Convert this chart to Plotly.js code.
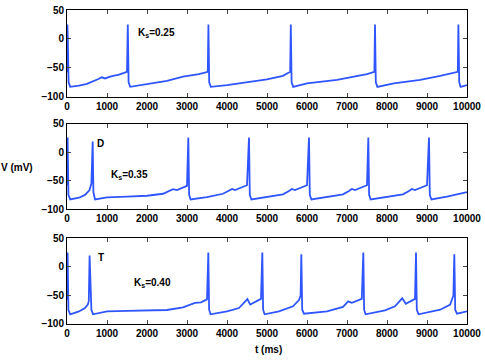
<!DOCTYPE html>
<html>
<head>
<meta charset="utf-8">
<script src="https://cdn.plot.ly/plotly-3.0.1.min.js"></script>
<style>
  html, body { margin: 0; padding: 0; background: #fff; }
  #chart { width: 485px; height: 360px; }
</style>
</head>
<body>
<div id="chart"></div>
<script>
// Ks = 0.25
var tA = [0, 10, 20, 40, 80, 300, 500, 800, 870, 950, 1100, 1300, 1500, 1520, 1540, 1580,
  2000, 2500, 2900, 3300, 3520, 3535, 3555, 3595, 4000, 4580, 5000, 5400, 5580, 5595, 5615, 5655,
  6000, 6750, 7080, 7500, 7685, 7700, 7720, 7760, 8170, 8830, 9330, 9770, 9785, 9805, 9840, 10000];
var vA = [-58, 25, 0, -75, -83, -81, -78, -69, -66.5, -68.5, -65, -62, -57, 25, -75, -83,
  -78.5, -72.5, -65.5, -61, -57, 25, -75, -83, -80, -74, -70, -64, -57, 25, -75, -83,
  -77, -71, -66.5, -61, -57, 25, -75, -83, -77, -71, -64, -57, 25, -75, -83, -80];

// Ks = 0.35
var tB = [0, 15, 35, 80, 300, 450, 560, 610, 642, 660, 700, 1000, 1500, 2000, 2400, 2600, 2650, 2750,
  3000, 3033, 3053, 3090, 3500, 3900, 4080, 4130, 4200, 4500, 4550, 4570, 4610, 5000, 5400, 5550,
  5620, 5700, 6000, 6050, 6070, 6110, 6500, 6900, 7050, 7120, 7200, 7500, 7533, 7553, 7590, 8000,
  8400, 8550, 8620, 8700, 9000, 9050, 9070, 9110, 9500, 10000];
var vB = [-58, 26, -75, -83, -80, -75, -67, -55, 19, -70, -83, -79.5, -78, -76.5, -73, -67, -65, -66.5,
  -59, 26, -75, -83, -79, -73, -67, -64.5, -66.5, -58, 26, -75, -83, -79, -74, -68,
  -64.5, -66.5, -58, 26, -75, -83, -79, -74, -68, -64.5, -66.5, -58, 26, -75, -83, -79,
  -74, -68, -64.5, -66.5, -58, 26, -75, -83, -78, -70];

// Ks = 0.40
var tC = [0, 15, 35, 80, 300, 450, 520, 545, 565, 610, 650, 1000, 1500, 2000, 2500, 2900, 3100, 3200,
  3350, 3500, 3533, 3553, 3590, 4000, 4300, 4450, 4510, 4580, 4700, 4850, 4883, 4903, 4940, 5300,
  5650, 5800, 5840, 5858, 5880, 5925, 6500, 6900, 7030, 7120, 7370, 7408, 7428, 7465, 7950, 8200,
  8380, 8470, 8700, 8725, 8745, 8790, 9330, 9580, 9660, 9683, 9705, 9750, 10000];
var vC = [-58, 25, -75, -83, -78, -72, -66, -60, 20, -75, -83, -78, -77, -76.5, -75.5, -71, -65, -63,
  -62, -57, 25, -75, -83, -78, -72, -62, -56.5, -66, -62, -56, 25, -75, -83, -78,
  -69, -58, -50, 22, -75, -82, -78, -70, -60.5, -63, -56, 25, -75, -83, -76, -69,
  -55, -64.5, -56, 25, -75, -83, -75, -66, -50, 22, -75, -82, -78];

var xTicks = [0, 1000, 2000, 3000, 4000, 5000, 6000, 7000, 8000, 9000, 10000];
var xText = ['0', '1000', '2000', '3000', '4000', '5000', '6000', '7000', '8000', '9000', '10000'];
var yTicks = [-100, -50, 0, 50];
var yText = ['\u2212100', '\u221250', '0', '50'];
var labels = ['K<sub>s</sub>=0.25', 'K<sub>s</sub>=0.35', 'K<sub>s</sub>=0.40'];

const BLUE = '#2f55ff';
const FONT = 'Liberation Sans, Arial, sans-serif';

function trace(t, v, n) {
  return {
    x: t, y: v, mode: 'lines',
    xaxis: n == 1 ? 'x' : 'x' + n,
    yaxis: n == 1 ? 'y' : 'y' + n,
    line: { color: BLUE, width: 1.8 },
    hoverinfo: 'skip'
  };
}

function xax(anchor) {
  return {
    range: [0, 10000], tickvals: xTicks, ticktext: xText, ticks: 'inside', ticklen: 4,
    showline: true, linecolor: '#000', linewidth: 1, mirror: 'ticks',
    showgrid: false, zeroline: false, anchor: anchor,
    tickfont: { size: 10, family: FONT, color: '#000', weight: 'bold' }
  };
}

function yax(domain, anchor) {
  return {
    range: [-100, 50], tickvals: yTicks, ticktext: yText,
    ticks: 'inside', ticklen: 4, domain: domain, anchor: anchor,
    showline: true, linecolor: '#000', linewidth: 1, mirror: 'ticks',
    showgrid: false, zeroline: false,
    tickfont: { size: 10, family: FONT, color: '#000', weight: 'bold' }
  };
}

var txt = { size: 10, family: FONT, color: '#000', weight: 'bold' };

function note(text, x, y, n) {
  return { text: text, x: x, y: y, xref: n == 1 ? 'x' : 'x' + n, yref: n == 1 ? 'y' : 'y' + n,
    xanchor: 'left', yanchor: 'middle', showarrow: false, font: txt };
}

var layout = {
  width: 485, height: 360,
  margin: { l: 67, r: 18, t: 10, b: 36 },
  paper_bgcolor: '#fff', plot_bgcolor: '#fff',
  showlegend: false,
  xaxis: xax('y'), yaxis: yax([0.724, 1], 'x'),
  xaxis2: xax('y2'), yaxis2: yax([0.366, 0.637], 'x2'),
  xaxis3: xax('y3'), yaxis3: yax([0, 0.273], 'x3'),
  annotations: [
    note(labels[0], 1720, 10, 1),
    note('D', 700, 15, 2),
    note(labels[1], 1050, -40, 2),
    note('T', 720, 16, 3),
    note(labels[2], 1630, -28, 3),
    // axis labels, placed in paper coords from pixel positions
    { text: 'V (mV)', x: (17 - 67) / 400, y: (324 - 167) / 314, xref: 'paper', yref: 'paper',
      xanchor: 'center', yanchor: 'middle', showarrow: false, font: txt },
    { text: 't (ms)', x: (268 - 67) / 400, y: (324 - 349) / 314, xref: 'paper', yref: 'paper',
      xanchor: 'center', yanchor: 'middle', showarrow: false, font: txt }
  ]
};

Plotly.newPlot('chart', [trace(tA, vA, 1), trace(tB, vB, 2), trace(tC, vC, 3)], layout, { staticPlot: true });
</script>
</body>
</html>
